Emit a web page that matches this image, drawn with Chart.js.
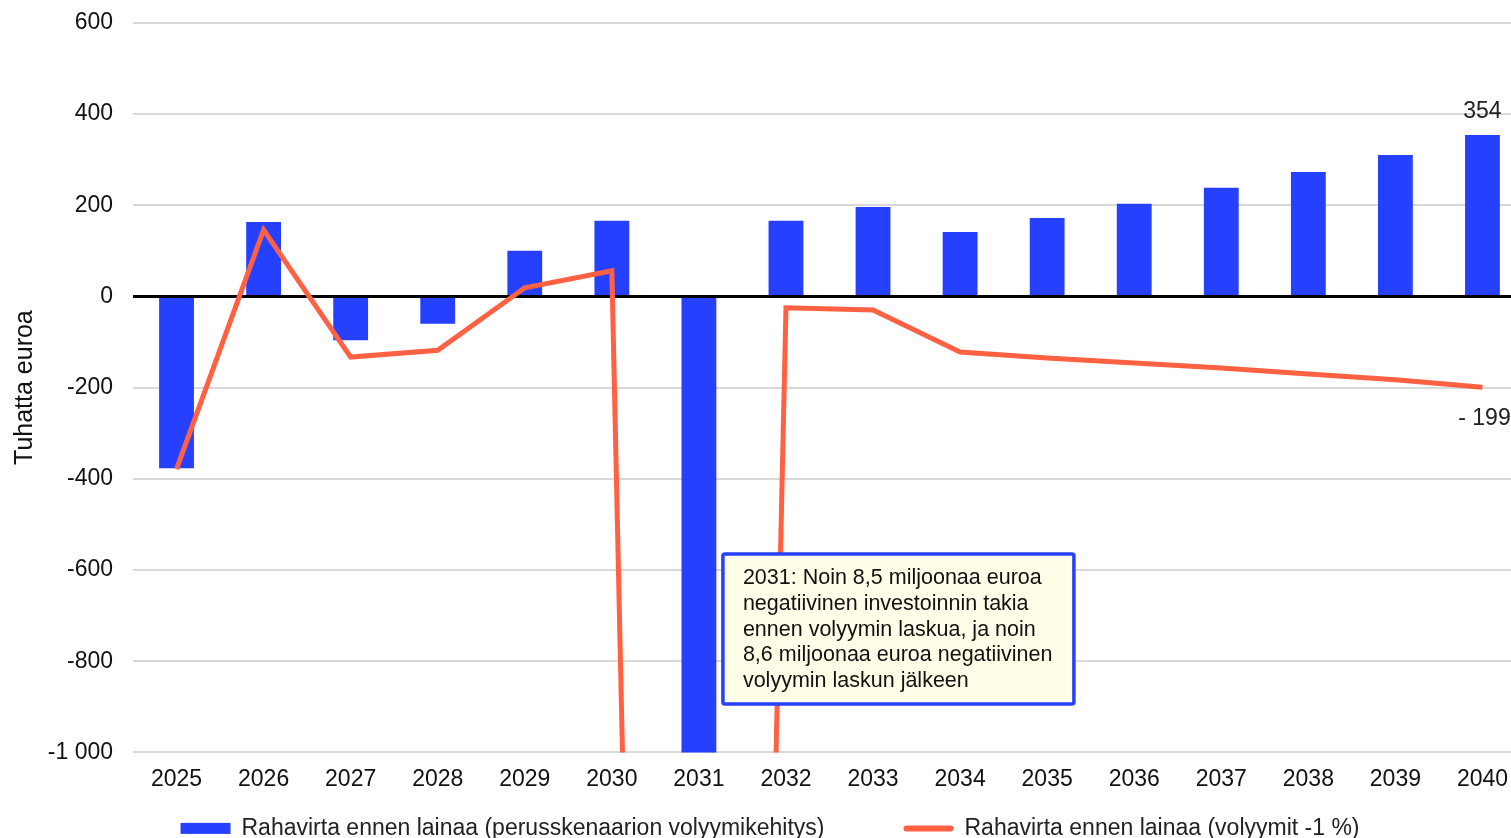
<!DOCTYPE html>
<html>
<head>
<meta charset="utf-8">
<script src="https://cdn.jsdelivr.net/npm/chart.js@4"></script>
<style>
  html, body { margin: 0; padding: 0; background: #fff; overflow: hidden; }
  canvas { display: block; margin-top: -11px; }
</style>
</head>
<body>
<canvas id="myChart" width="1544" height="860"></canvas>
<script>
const years = ['2025', '2026', '2027', '2028', '2029', '2030', '2031', '2032',
    '2033', '2034', '2035', '2036', '2037', '2038', '2039', '2040'];
const baseCase = [-377, 163, -96, -60, 100, 166, -8500, 166, 196, 141, 172, 203, 238, 273, 310, 354];
const volumeDown = [-379, 146, -133, -118, 19, 56, -8600, -25, -30, -122, -135, -146, -157, -170, -183, -199];
const yTicks = [-1000, -800, -600, -400, -200, 0, 200, 400, 600];
const seriesNames = ['Rahavirta ennen lainaa (perusskenaarion volyymikehitys)', 'Rahavirta ennen lainaa (volyymit -1 %)'];
const noteLines = [
    '2031: Noin 8,5 miljoonaa euroa',
    'negatiivinen investoinnin takia',
    'ennen volyymin laskua, ja noin',
    '8,6 miljoonaa euroa negatiivinen',
    'volyymin laskun jälkeen'
];

const blue = '#2540ff';
const orange = '#ff6142';
const font = '"Liberation Sans", Arial, sans-serif';

function fmt(v) {
    const s = Math.abs(v).toString().replace(/\B(?=(\d{3})+(?!\d))/g, ' ');
    return (v < 0 ? '-' : '') + s;
}

// black zero line between bars and the orange line
const zeroLine = {
    id: 'zeroLine',
    afterDatasetDraw(chart, args) {
        if (args.index !== 0) return;
        const {ctx, chartArea} = chart;
        const y = chart.scales.y.getPixelForValue(0);
        ctx.save();
        ctx.strokeStyle = '#000';
        ctx.lineWidth = 3;
        ctx.beginPath();
        ctx.moveTo(chartArea.left, y);
        ctx.lineTo(chartArea.right, y);
        ctx.stroke();
        ctx.restore();
    }
};

const endLabels = {
    id: 'endLabels',
    afterDatasetsDraw(chart) {
        const ctx = chart.ctx;
        const last = years.length - 1;
        const bar = chart.getDatasetMeta(0).data[last];
        const pt = chart.getDatasetMeta(1).data[last];
        ctx.save();
        ctx.font = '23px ' + font;
        ctx.fillStyle = '#222';
        ctx.textAlign = 'center';
        ctx.textBaseline = 'middle';
        ctx.fillText(String(baseCase[last]), bar.x, bar.y - 23);
        ctx.fillText('- ' + Math.abs(volumeDown[last]), pt.x + 2, pt.y + 32);
        ctx.restore();
    }
};

const noteBox = {
    id: 'noteBox',
    afterDraw(chart) {
        const ctx = chart.ctx;
        const x = chart.scales.x.getPixelForValue(6) + 24;
        const y = chart.scales.y.getPixelForValue(-565);
        const w = 351, h = 150;
        ctx.save();
        ctx.fillStyle = '#fffde8';
        ctx.strokeStyle = blue;
        ctx.lineWidth = 3.5;
        ctx.beginPath();
        ctx.roundRect(x, y, w, h, 2);
        ctx.fill();
        ctx.stroke();
        ctx.fillStyle = '#111';
        ctx.font = '21.5px ' + font;
        ctx.textBaseline = 'middle';
        noteLines.forEach((line, i) => {
            ctx.fillText(line, x + 20, y + 24 + i * 25.8);
        });
        ctx.restore();
    }
};

const bottomLegend = {
    id: 'bottomLegend',
    afterDraw(chart) {
        const ctx = chart.ctx;
        ctx.save();
        ctx.font = '23px ' + font;
        const gap = 79;
        const widths = seriesNames.map(t => 50 + 11 + ctx.measureText(t).width);
        const total = widths[0] + gap + widths[1];
        let x = (chart.width - total) / 2 - 2;
        const y = chart.chartArea.bottom + 76;
        ctx.textBaseline = 'middle';
        // bar swatch
        ctx.fillStyle = blue;
        ctx.fillRect(x, y - 5.5, 50, 11);
        ctx.fillStyle = '#222';
        ctx.fillText(seriesNames[0], x + 61, y);
        x += widths[0] + gap;
        // line swatch
        ctx.strokeStyle = orange;
        ctx.lineWidth = 6;
        ctx.lineCap = 'round';
        ctx.beginPath();
        ctx.moveTo(x + 3, y);
        ctx.lineTo(x + 47, y);
        ctx.stroke();
        ctx.fillText(seriesNames[1], x + 61, y);
        ctx.restore();
    }
};

const ctx = document.getElementById('myChart');

new Chart(ctx, {
    type: 'bar',
    data: {
        labels: years,
        datasets: [{
            label: seriesNames[0],
            data: baseCase,
            backgroundColor: blue,
            borderWidth: 0,
            barPercentage: 0.8,
            categoryPercentage: 0.5,
            order: 1
        }, {
            type: 'line',
            label: seriesNames[1],
            data: volumeDown,
            borderColor: orange,
            backgroundColor: orange,
            borderWidth: 5,
            borderJoinStyle: 'miter',
            pointRadius: 0,
            tension: 0,
            order: 0
        }]
    },
    options: {
        responsive: false,
        animation: false,
        layout: {
            padding: { top: 0, right: 18, bottom: 43, left: 0 }
        },
        plugins: {
            legend: { display: false },
            tooltip: { enabled: false }
        },
        scales: {
            x: {
                grid: { display: false, drawTicks: false },
                border: { display: false },
                ticks: {
                    color: '#111',
                    padding: 13,
                    font: { family: font, size: 23 }
                }
            },
            y: {
                min: -1000,
                max: 600,
                afterBuildTicks(scale) {
                    scale.ticks = yTicks.map(v => ({ value: v }));
                },
                afterFit(scale) {
                    scale.width = 133;
                },
                grid: {
                    color: c => c.tick && c.tick.value === 0 ? 'rgba(0,0,0,0)' : '#d9d9d9',
                    lineWidth: 2,
                    drawTicks: false
                },
                border: { display: false },
                ticks: {
                    color: '#111',
                    padding: 20,
                    font: { family: font, size: 23 },
                    callback: v => fmt(v)
                },
                title: {
                    display: true,
                    text: 'Tuhatta euroa',
                    color: '#111',
                    font: { family: font, size: 25 },
                    padding: { top: 10, bottom: 0 }
                }
            }
        }
    },
    plugins: [zeroLine, endLabels, noteBox, bottomLegend]
});
</script>
</body>
</html>
